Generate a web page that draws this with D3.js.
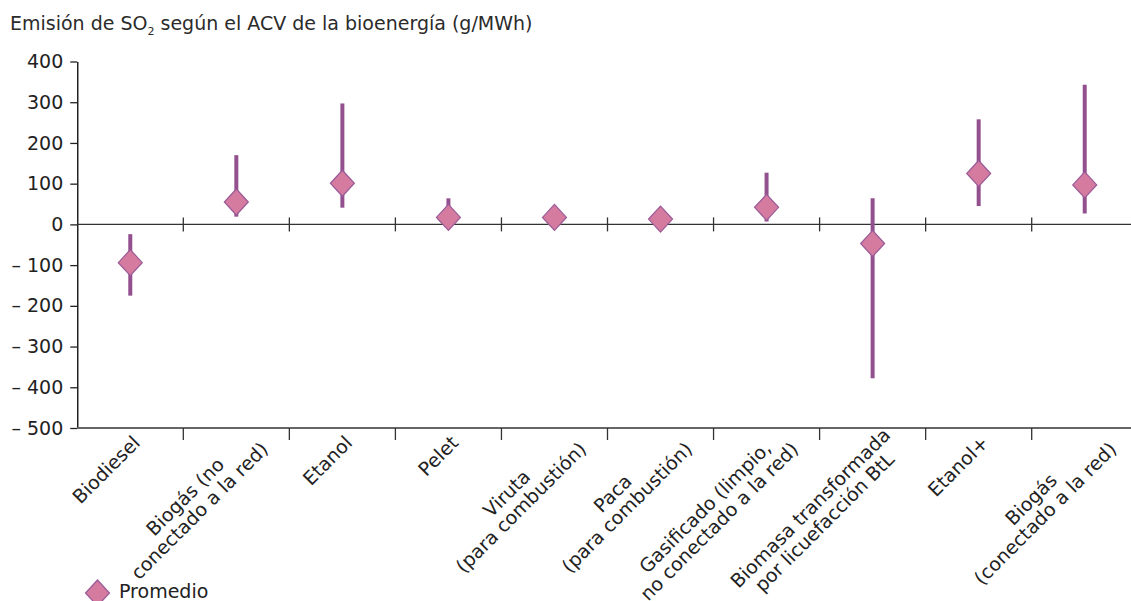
<!DOCTYPE html>
<html>
<head>
<meta charset="utf-8">
<script src="https://cdn.jsdelivr.net/npm/d3@7"></script>
<style>
	body { margin: 0; background: #fff; }
	svg { display: block; font-family: Verdana, "DejaVu Sans", sans-serif; }
</style>
</head>
<body>
<div id="chart"></div>
<script>
// categories (line breaks as in the original labels)
const categories = [
	"Biodiesel",
	"Biogás (no\nconectado a la red)",
	"Etanol",
	"Pelet",
	"Viruta\n(para combustión)",
	"Paca\n(para combustión)",
	"Gasificado (limpio,\nno conectado a la red)",
	"Biomasa transformada\npor licuefacción BtL",
	"Etanol+",
	"Biogás\n(conectado a la red)"
];

// g/MWh
const minValues = [-175, 19, 41, 5, 17, 13, 7, -378, 45, 27];
const maxValues = [-24, 170, 297, 64, 17, 13, 127, 64, 258, 343];
const meanValues = [-94, 55, 101, 17, 17, 13, 42, -47, 125, 97];

const yTicks = [-500, -400, -300, -200, -100, 0, 100, 200, 300, 400];

const width = 1131;
const height = 601;
const fontSize = "19px";

const svg = d3.select("#chart")
	.append("svg")
	.attr("width", width)
	.attr("height", height);

const x = d3.scaleBand()
	.domain(categories)
	.range([77.25, 1137.75]);

const y = d3.scaleLinear()
	.domain([-500, 400])
	.range([428, 61.5]);

// title
const title = svg.append("text")
	.attr("x", 10)
	.attr("y", 30)
	.attr("fill", "#2b2b2b")
	.style("font-size", fontSize);
title.append("tspan").text("Emisión de SO");
title.append("tspan").attr("dy", 5).style("font-size", "11px").text("2");
title.append("tspan").attr("dy", -5).text(" según el ACV de la bioenergía (g/MWh)");

// y axis
const yAxis = svg.append("g")
	.attr("transform", "translate(" + x.range()[0] + ",0)")
	.call(d3.axisLeft(y)
		.tickValues(yTicks)
		.tickSize(7)
		.tickSizeOuter(0)
		.tickPadding(7)
		.tickFormat((d) => d < 0 ? "\u2013 " + Math.abs(d) : d));
yAxis.selectAll("text")
	.attr("fill", "#222")
	.style("font-size", fontSize)
	.style("font-family", "Verdana, 'DejaVu Sans', sans-serif");
yAxis.selectAll("line").attr("stroke", "#222").attr("stroke-width", 1.3);
yAxis.select(".domain").attr("stroke", "#222").attr("stroke-width", 1.5);

// bottom line and ticks
svg.append("line")
	.attr("x1", x.range()[0])
	.attr("x2", x.range()[1])
	.attr("y1", y(-500))
	.attr("y2", y(-500))
	.attr("stroke", "#666")
	.attr("stroke-width", 2);

svg.append("g")
	.selectAll("line")
	.data(categories.slice(1))
	.enter()
	.append("line")
	.attr("x1", (d) => x(d))
	.attr("x2", (d) => x(d))
	.attr("y1", y(-500))
	.attr("y2", y(-500) + 12)
	.attr("stroke", "#333")
	.attr("stroke-width", 1.3);

// zero line with crossing ticks
svg.append("line")
	.attr("x1", x.range()[0])
	.attr("x2", x.range()[1])
	.attr("y1", y(0))
	.attr("y2", y(0))
	.attr("stroke", "#333")
	.attr("stroke-width", 1.4);

svg.append("g")
	.selectAll("line")
	.data(categories.slice(1))
	.enter()
	.append("line")
	.attr("x1", (d) => x(d))
	.attr("x2", (d) => x(d))
	.attr("y1", y(0) - 7)
	.attr("y2", y(0) + 7)
	.attr("stroke", "#333")
	.attr("stroke-width", 1.3);

// category labels, rotated, lines centred in the block
const lineHeight = 20;
const labels = svg.append("g")
	.selectAll("g")
	.data(categories)
	.enter()
	.append("g")
	.attr("transform", (d) => "translate(" + (x(d) + x.bandwidth() / 2 + 11) + "," + (y(-500) + 16) + ") rotate(-45)");

labels.each(function (d) {
	const g = d3.select(this);
	const lines = d.split("\n");
	const texts = lines.map((t, i) => g.append("text")
		.attr("y", i * lineHeight)
		.attr("fill", "#222")
		.style("font-size", fontSize)
		.attr("text-anchor", "middle")
		.text(t));
	const maxW = d3.max(texts, (t) => t.node().getComputedTextLength());
	const shift = lines.length > 1 ? 11 : 0;
	texts.forEach((t) => t.attr("x", -maxW / 2 + shift));
});

// ranges
const cx = (i) => x(categories[i]) + x.bandwidth() / 2;

svg.append("g")
	.selectAll("line")
	.data(categories)
	.enter()
	.append("line")
	.attr("x1", (d, i) => cx(i))
	.attr("x2", (d, i) => cx(i))
	.attr("y1", (d, i) => y(maxValues[i]))
	.attr("y2", (d, i) => y(minValues[i]))
	.attr("stroke", "#93508f")
	.attr("stroke-width", 4);

// mean diamonds
const dw = 12;
const dh = 13;
const diamond = (px, py) => "M " + px + " " + (py - dh) + " L " + (px + dw) + " " + py + " L " + px + " " + (py + dh) + " L " + (px - dw) + " " + py + " Z";

svg.append("g")
	.selectAll("path")
	.data(categories)
	.enter()
	.append("path")
	.attr("d", (d, i) => diamond(cx(i), y(meanValues[i])))
	.attr("fill", "#d47b9f")
	.attr("stroke", "#9a5a97")
	.attr("stroke-width", 1.2);

// legend
svg.append("path")
	.attr("d", diamond(97.5, 593))
	.attr("fill", "#d47b9f")
	.attr("stroke", "#9a5a97")
	.attr("stroke-width", 1.2);

svg.append("text")
	.attr("x", 119)
	.attr("y", 598)
	.attr("fill", "#222")
	.style("font-size", fontSize)
	.text("Promedio");
</script>
</body>
</html>
